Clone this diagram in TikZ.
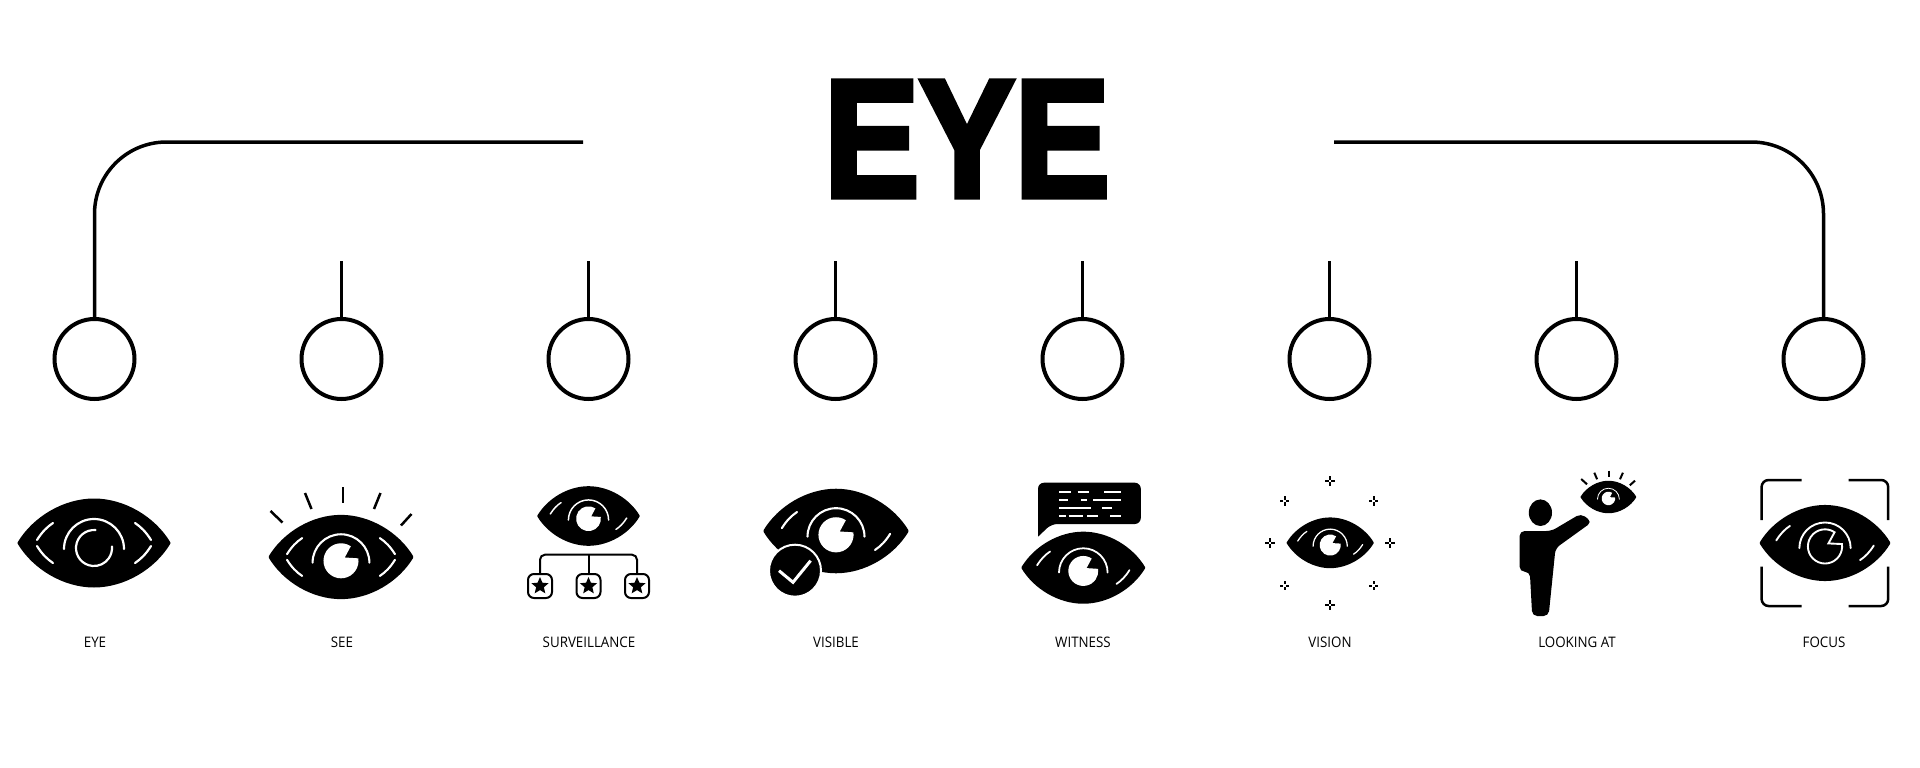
\documentclass[tikz,border=0pt]{standalone}
\usepackage{fontspec}
\usetikzlibrary{shapes.geometric}
\newfontfamily\labelfont{Open Sans}
\newfontfamily\titlefont{Liberation Sans}[BoldFont={Liberation Sans Bold},BoldFeatures={FakeBold=3.5}]
\newcommand{\eyeshape}[4]{
	\begin{scope}[shift={(#1,-#2)},scale=#3,glint/.style={draw=white,line width=#3*2.2pt,line cap=round}]
		\fill[draw=black,line join=round,line width=#3*3pt] (-75,0) .. controls (-60,25) and (-30,43) .. (0,43) .. controls (30,43) and (60,25) .. (75,0) .. controls (60,-25) and (30,-43) .. (0,-43) .. controls (-30,-43) and (-60,-25) .. (-75,0) -- cycle;
		#4
	\end{scope}}
\newcommand{\maingl}{
	\draw[glint] (-57,3) .. controls (-52,11) and (-47,16) .. (-41,20);
	\draw[glint] (57,-3) .. controls (52,-11) and (47,-16) .. (41,-20);}
\newcommand{\sidegl}{
	\draw[glint] (57,3) .. controls (52,11) and (47,16) .. (41,20);
	\draw[glint] (-57,-3) .. controls (-52,-11) and (-47,-16) .. (-41,-20);}
\newcommand{\irisarc}{\draw[glint] (-30,-6) arc (180:0:30);}
\newcommand{\pupilpie}{\fill[white] (0,-4) ++(56:18.5) arc (56:368:18.5) -- (4,-0.5) -- cycle;}
\newcommand{\pupilline}{\draw[glint] (0,-4) ++(56:20) arc (56:368:20) -- (4,-0.5) -- cycle;}
\tikzset{
	wire/.style={line width=3.5pt},
	ring/.style={circle,draw,line width=4pt,minimum size=80pt,inner sep=0pt},
	caption/.style={font=\labelfont\fontsize{14.5}{15}\selectfont,xscale=0.92,inner sep=0pt},
	ray/.style={line width=2.5pt},
	starbox/.style={draw,fill=white,line width=2pt,rounded corners=6pt,minimum size=24pt,inner sep=0pt},
	starmark/.style={star,star points=5,star point ratio=2.2,fill,minimum size=18pt,inner sep=0pt},
	bracket/.style={line width=2.5pt,rounded corners=7pt},
}
\begin{document}
\begin{tikzpicture}[x=1pt,y=1pt]
	\useasboundingbox (0,0) rectangle (1920,-768);
	\node[font=\titlefont\bfseries\fontsize{168}{168}\selectfont,xscale=0.85,inner sep=0pt] (title) at (967,-139) {EYE};
	\foreach \n/\cx/\txt in {1/94.5/EYE,2/341.5/SEE,3/588.5/SURVEILLANCE,4/835.5/VISIBLE,5/1082.5/WITNESS,6/1329.5/VISION,7/1576.5/LOOKING AT,8/1823.5/FOCUS}{
		\node[ring] (c\n) at (\cx,-359) {};
		\node[caption] (l\n) at (\cx+0.5,-642) {\txt};}
	\foreach \n/\cx in {2/341.5,3/588.5,4/835.5,5/1082.5,6/1329.5,7/1576.5}{
		\coordinate (t\n) at (\cx,-261);
		\draw[wire] (t\n) -- (c\n);}
	\coordinate (hl) at (583,-142);
	\coordinate (hr) at (1334,-142);
	\draw[wire,rounded corners=72pt] (hl) -| (c1);
	\draw[wire,rounded corners=72pt] (hr) -| (c8);
	% eye
	\eyeshape{94}{543}{1}{\maingl\sidegl\irisarc
		\draw[glint] (0,-5) ++(85:18) arc (85:365:18);}
	% see
	\eyeshape{341}{557}{0.947}{\maingl\sidegl\irisarc\pupilpie}
	\draw[ray] (343,-487) -- (343,-503);
	\draw[ray] (305,-493) -- (311.5,-509);
	\draw[ray] (380.5,-493) -- (374,-509);
	\draw[ray] (270.5,-511) -- (282.5,-522.5);
	\draw[ray] (411.5,-514) -- (401,-525.5);
	% surveillance
	\eyeshape{588.5}{516}{0.67}{\maingl\irisarc\pupilpie}
	\foreach \n/\cx in {1/540,2/588.5,3/637}{
		\node[starbox] (b\n) at (\cx,-586) {};
		\node[starmark] (s\n) at (b\n) {};}
	\coordinate (j) at (588.5,-554.7);
	\draw[line width=2pt,rounded corners=5pt] (b1.north) |- (j) -| (b3.north);
	\draw[line width=2pt] (j) -- (b2.north);
	% visible
	\eyeshape{836}{531}{0.95}{\maingl\irisarc\pupilpie}
	\fill[draw=white,line width=2pt] (795,-570.7) circle (26);
	\draw[white,line width=3pt] (779,-570.7) -- (793,-582.3) -- (810.6,-560.7);
	% witness
	\eyeshape{1083.3}{567.7}{0.81}{\maingl\irisarc\pupilpie}
	\fill[rounded corners=6pt] (1038,-489) -- (1038,-482.7) -- (1140.8,-482.7) -- (1140.8,-524) -- (1051.4,-524) [sharp corners] -- (1038,-536.7) -- (1038,-520) -- cycle;
	\foreach \ya/\xa/\xb in {491.7/1059.2/1070.6,491.7/1077.6/1089,491.7/1104/1120.8,500/1059.2/1067.7,500/1080.8/1087,500/1093/1120.8,507.7/1059.2/1091,507.7/1102.4/1111.8,515.7/1059.2/1065.7,515.7/1068.6/1082.9,515.7/1087/1098,515.7/1110.2/1120.8}
		\draw[white,line width=1.6pt] (\xa,-\ya) -- (\xb,-\ya);
	% vision
	\eyeshape{1330.2}{542.8}{0.57}{\maingl\irisarc\pupilpie}
	\foreach \sx/\sy in {1330/481,1373.5/501,1390/543,1373.5/585.5,1330/605,1284.5/585.5,1270/543,1284.5/501}
		\foreach \a in {0,90,180,270}
			\draw[line width=2pt] (\sx,-\sy) ++(\a:1.3) -- ++(\a:3.6);
	% looking at
	\eyeshape{1608.4}{497}{0.365}{\irisarc\pupilpie}
	\draw[line width=2pt] (1608.6,-470.7) -- (1608.6,-477.3);
	\draw[line width=2pt] (1594.3,-472.7) -- (1597.1,-479.3);
	\draw[line width=2pt] (1622.9,-472.7) -- (1620,-479.3);
	\draw[line width=2pt] (1581.2,-479) -- (1587,-484.3);
	\draw[line width=2pt] (1635,-480.7) -- (1629.8,-485.3);
	\fill (1540.4,-512.7) ellipse (11.6 and 13.3);
	\fill[rounded corners=5pt] (1529,-531) -- (1551.4,-531) -- (1581,-513.5) -- (1592,-522) -- (1555.5,-548.3) -- (1548.6,-616) -- (1532.2,-616) -- (1529.8,-571.7) -- (1519.6,-571.7) -- (1519.6,-531) -- cycle;
	% focus
	\eyeshape{1825}{543}{0.855}{\maingl\irisarc\pupilline}
	\draw[bracket] (1761.6,-520) -- (1761.6,-480) -- (1801.6,-480);
	\draw[bracket] (1848.6,-480) -- (1888.2,-480) -- (1888.2,-520);
	\draw[bracket] (1761.6,-566.7) -- (1761.6,-606) -- (1801.6,-606);
	\draw[bracket] (1848.6,-606) -- (1888.2,-606) -- (1888.2,-566.7);
\end{tikzpicture}
\end{document}
